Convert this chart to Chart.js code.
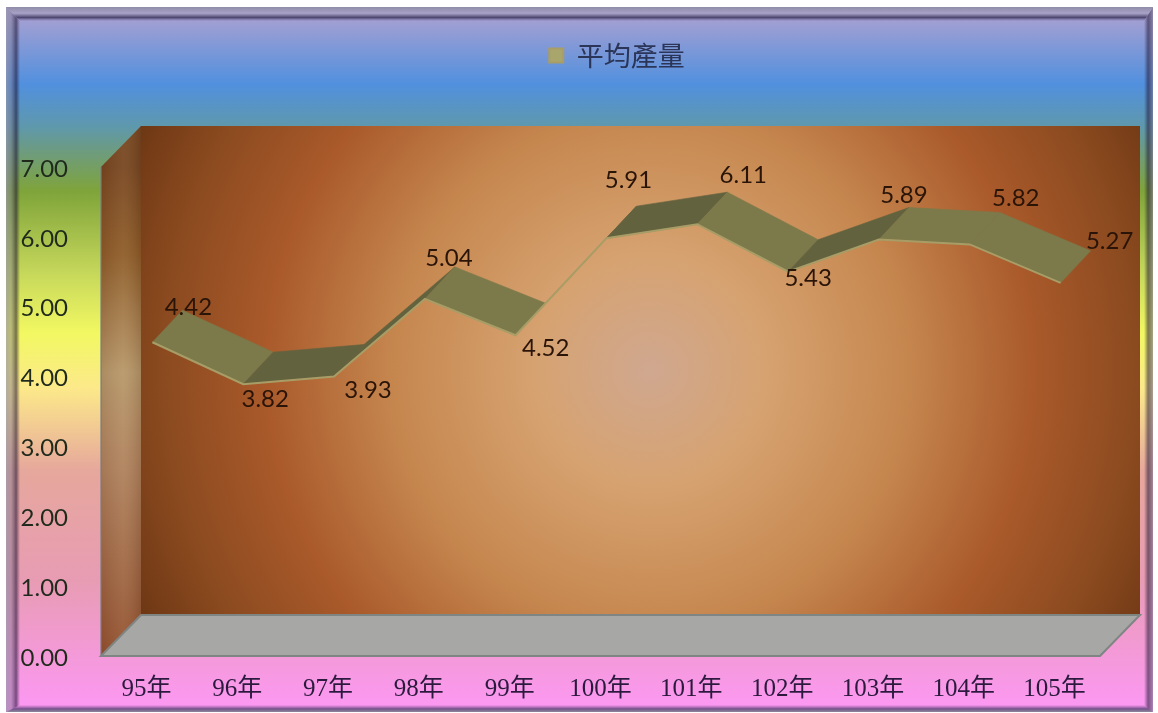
<!DOCTYPE html>
<html>
<head>
<meta charset="utf-8">
<style>
html,body{margin:0;padding:0;background:#fff;}
canvas{display:block;filter:blur(0.5px);}
</style>
<script src="https://cdn.jsdelivr.net/npm/chart.js@4/dist/chart.umd.js"></script>
</head>
<body>
<canvas id="c" width="1158" height="713"></canvas>
<script>
const categories = ['95年','96年','97年','98年','99年','100年','101年','102年','103年','104年','105年'];
const seriesName = '平均產量';
const seriesValues = [4.42,3.82,3.93,5.04,4.52,5.91,6.11,5.43,5.89,5.82,5.27];
const labelShiftX = [42,28,40,30,36,28,52,26,31,52,55];
const labelShiftY = [-40,10,9,-46,8,-63,-54,2,-49,-51,-47];

const depthX = 40, depthY = -41;
const ribbonShiftX = 6, ribbonShiftY = -5, ribbonDepthX = 30, ribbonDepthY = -32;

function pageGradient(ctx){
  const g = ctx.createLinearGradient(0,15,0,706);
  const stops = [[0,'#A8A0D2'],[.1,'#5190DE'],[.16,'#5E98AE'],[.2,'#6E9C7C'],[.255,'#7FA43A'],
    [.37,'#C4D65A'],[.46,'#F2F862'],[.54,'#FCE98A'],[.66,'#E6A79C'],[.82,'#E89CB4'],[1,'#FC98F2']];
  stops.forEach(s=>g.addColorStop(s[0],s[1]));
  return g;
}
function poly(ctx,pts){
  ctx.beginPath();
  pts.forEach((p,i)=> i?ctx.lineTo(p[0],p[1]):ctx.moveTo(p[0],p[1]));
  ctx.closePath();
}
const scene = {
  id:'scene',
  beforeLayout(chart){
    const lg = chart.legend;
    if(lg && !lg._wrapped){
      const f = lg.fit.bind(lg);
      lg.fit = function(){ f(); this.height = 127; };
      lg._wrapped = true;
    }
  },
  afterLayout(chart){
    const lg = chart.legend;
    const d = 617 - (lg.left+lg.right)/2;
    lg.left += d; lg.right += d;
    lg.top = 40;
  },
  beforeDraw(chart){
    const ctx = chart.ctx, a = chart.chartArea;
    const L=6,T=7,R=1153,B=712,b=14;
    ctx.save();
    ctx.fillStyle = pageGradient(ctx);
    ctx.fillRect(L,T,R-L,B-T);
    // frame bevels
    let g = ctx.createLinearGradient(L,0,L+b,0);
    g.addColorStop(0,'rgba(150,150,170,.7)'); g.addColorStop(.35,'rgba(125,120,145,.45)');
    g.addColorStop(.72,'rgba(30,20,50,.6)'); g.addColorStop(1,'rgba(40,30,60,0)');
    poly(ctx,[[L,T],[L+b,T+b],[L+b,B-6],[L,B]]); ctx.fillStyle=g; ctx.fill();
    g = ctx.createLinearGradient(R-b+5,0,R,0);
    g.addColorStop(0,'rgba(40,30,60,0)'); g.addColorStop(.45,'rgba(30,20,50,.55)');
    g.addColorStop(1,'rgba(130,120,150,.65)');
    poly(ctx,[[R,T],[R-b+5,T+b],[R-b+5,B-6],[R,B]]); ctx.fillStyle=g; ctx.fill();
    g = ctx.createLinearGradient(0,T,0,T+b);
    g.addColorStop(0,'#8F8CA6'); g.addColorStop(.45,'#A8A2C8'); g.addColorStop(.75,'#4E4870'); g.addColorStop(1,'rgba(100,90,140,0)');
    poly(ctx,[[L,T],[R,T],[R-b+5,T+b],[L+b,T+b]]); ctx.fillStyle=g; ctx.fill();
    g = ctx.createLinearGradient(0,B-7,0,B);
    g.addColorStop(0,'rgba(250,150,240,.9)'); g.addColorStop(.55,'#74508A'); g.addColorStop(1,'#8F8A9A');
    poly(ctx,[[L,B],[L+b,B-7],[R-b+5,B-7],[R,B]]); ctx.fillStyle=g; ctx.fill();

    const fx0=a.left, fx1=a.right, fy0=a.bottom, fy1=a.top;
    const bx0=fx0+depthX, bx1=fx1+depthX, by0=fy0+depthY, by1=fy1+depthY;
    // back wall
    g = ctx.createRadialGradient(650,370,0,650,370,580);
    [[0,'#D0A890'],[.2,'#D6A270'],[.44,'#C6874F'],[.66,'#AA5A2B'],[.84,'#8B4A1F'],[1,'#683412']]
      .forEach(s=>g.addColorStop(s[0],s[1]));
    ctx.fillStyle=g; ctx.fillRect(bx0,by1,bx1-bx0,by0-by1);
    // left wall
    g = ctx.createLinearGradient(0,fy1,0,fy0);
    [[0,'#74431F'],[.18,'#8C5A28'],[.42,'#B5966A'],[.62,'#AD7F5C'],[1,'#904E2E']]
      .forEach(s=>g.addColorStop(s[0],s[1]));
    poly(ctx,[[fx0,fy1],[bx0,by1],[bx0,by0],[fx0,fy0]]); ctx.fillStyle=g; ctx.fill();
    g = ctx.createLinearGradient(fx0,0,bx0,0);
    g.addColorStop(0,'rgba(80,40,20,.10)'); g.addColorStop(.55,'rgba(255,235,190,.08)'); g.addColorStop(1,'rgba(70,35,10,.15)');
    ctx.fillStyle=g; ctx.fill();
    ctx.strokeStyle='rgba(120,125,125,.8)'; ctx.lineWidth=1.5;
    ctx.beginPath(); ctx.moveTo(fx0,fy1); ctx.lineTo(fx0,fy0); ctx.stroke();
    // floor
    poly(ctx,[[fx0,fy0],[bx0,by0],[bx1,by0],[fx1,fy0]]);
    ctx.fillStyle='#A7A7A5'; ctx.fill();
    ctx.strokeStyle='#7F8583'; ctx.lineWidth=2; ctx.stroke();
    ctx.restore();
  },
  beforeDatasetsDraw(chart){
    const ctx = chart.ctx, pts = chart.getDatasetMeta(0).data;
    ctx.save();
    ctx.translate(ribbonShiftX,ribbonShiftY);
    for(let i=0;i<pts.length-1;i++){
      const p=pts[i], q=pts[i+1];
      poly(ctx,[[p.x,p.y],[p.x+ribbonDepthX,p.y+ribbonDepthY],[q.x+ribbonDepthX,q.y+ribbonDepthY],[q.x,q.y]]);
      const col = q.y>p.y ? '#7C794A' : '#63623E';
      ctx.fillStyle=col; ctx.strokeStyle=col; ctx.lineWidth=.6;
      ctx.fill(); ctx.stroke();
    }
  },
  afterDatasetsDraw(chart){
    const ctx = chart.ctx, pts = chart.getDatasetMeta(0).data;
    ctx.restore();
    ctx.save();
    ctx.font='24px Lato';
    ctx.fillStyle='#2A1408';
    ctx.textAlign='center';
    ctx.textBaseline='middle';
    pts.forEach((p,i)=>{
      ctx.fillText(seriesValues[i].toFixed(2), p.x+labelShiftX[i], p.y+labelShiftY[i]);
    });
    ctx.restore();
  }
};
new Chart(document.getElementById('c'),{
  type:'line',
  data:{labels:categories,datasets:[{
    label:seriesName,
    data:seriesValues,
    borderColor:'#A89D66',
    backgroundColor:'#A8A66C',
    borderWidth:2,
    tension:0,
    pointRadius:0,
    clip:false
  }]},
  plugins:[scene],
  options:{
    responsive:false,
    animation:false,
    devicePixelRatio:1,
    layout:{padding:{left:0,right:58,top:40,bottom:0}},
    plugins:{
      tooltip:{enabled:false},
      legend:{
        display:true,position:'top',align:'center',
        labels:{
          boxWidth:14,boxHeight:14,padding:2,
          color:'#2A3558',
          font:{family:'"Noto Sans CJK TC"',size:27}
        }
      }
    },
    scales:{
      x:{
        type:'category',offset:true,
        grid:{display:false,drawTicks:false},
        border:{display:false},
        afterFit(s){s.height=57;},
        ticks:{color:'#2B1A3E',padding:18,maxRotation:0,autoSkip:false,
          font:{family:'"Liberation Serif","Noto Sans CJK TC"',size:25}}
      },
      y:{
        min:0,max:7,
        grid:{display:false,drawTicks:false},
        border:{display:false},
        afterFit(s){
          s.width=101;
          if(!s._shifted){
            const d=s.drawLabels.bind(s);
            s.drawLabels=function(ca){this.ctx.save();this.ctx.translate(0,2);d(ca);this.ctx.restore();};
            s._shifted=true;
          }
        },
        ticks:{stepSize:1,color:'#1F2A1C',padding:33,
          callback:v=>v.toFixed(2),
          font:{family:'Lato',size:24}}
      }
    }
  }
});
</script>
</body>
</html>
